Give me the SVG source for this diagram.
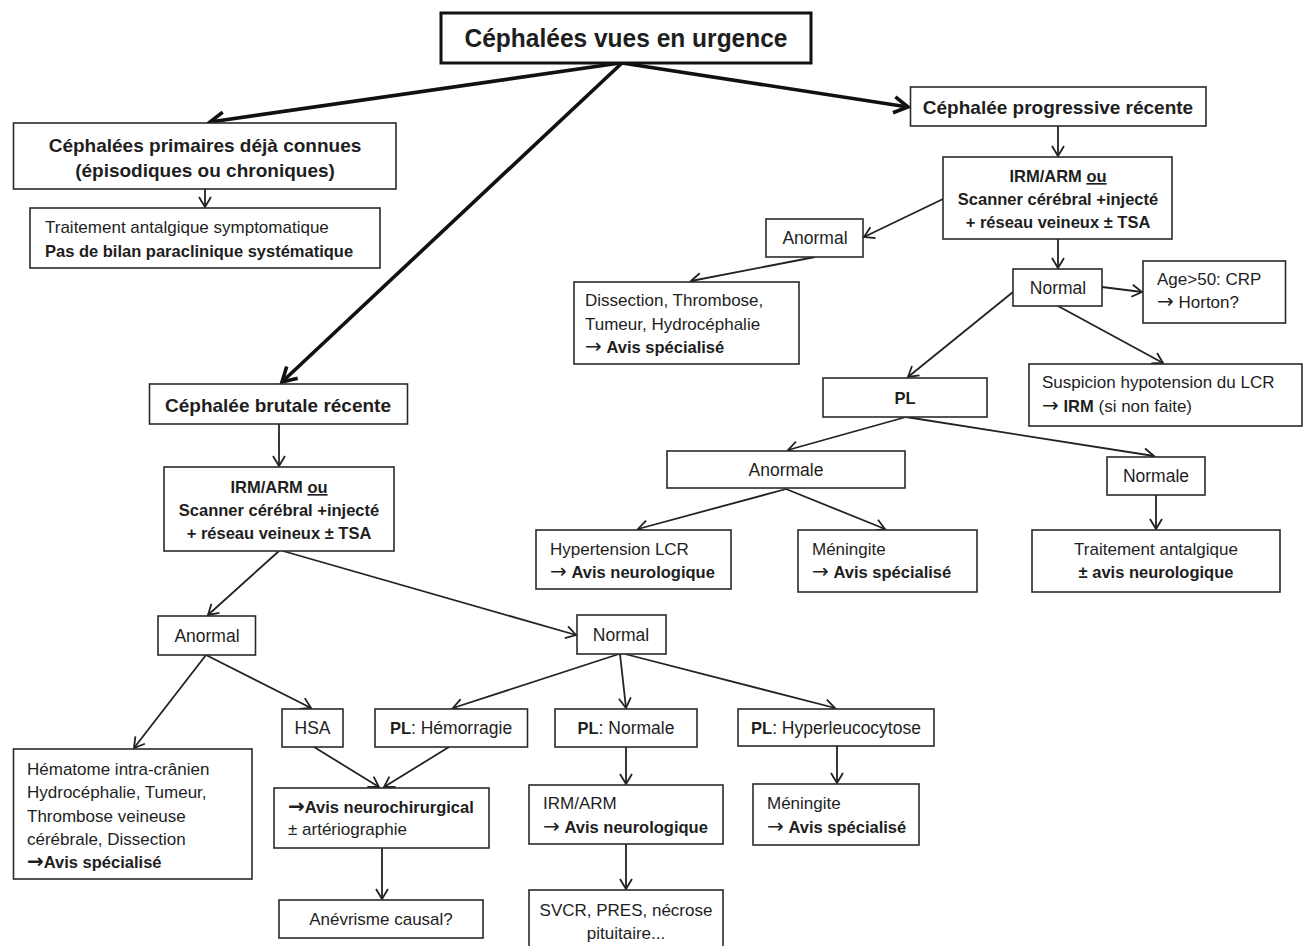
<svg xmlns="http://www.w3.org/2000/svg" width="1306" height="946" viewBox="0 0 1306 946">
<style>
text{font-family:"Liberation Sans",Arial,sans-serif;fill:#1e1e1e;font-size:17px}
.b{font-weight:bold;font-size:16.5px}
.h{font-weight:bold;font-size:19px}
.t{font-weight:bold;font-size:26px}
.c{text-anchor:middle}
.n{font-size:17.5px}
.ar{font-family:"DejaVu Sans",sans-serif;font-size:20px}
rect{fill:#fff;stroke:#2a2a2a;stroke-width:1.6}
.thick{stroke:#111;stroke-width:3.6;fill:none}
.thin{stroke:#222;stroke-width:1.8;fill:none}
</style>
<defs>
<marker id="ah" viewBox="0 0 14 14" refX="12" refY="7" markerWidth="14" markerHeight="14" markerUnits="userSpaceOnUse" orient="auto">
<path d="M2,1 L12,7 L2,13" fill="none" stroke="#222" stroke-width="1.8"/>
</marker>
<marker id="ahT" viewBox="0 0 20 20" refX="17" refY="10" markerWidth="20" markerHeight="20" markerUnits="userSpaceOnUse" orient="auto">
<path d="M3,2 L17,10 L3,18" fill="none" stroke="#111" stroke-width="3.6"/>
</marker>
</defs>

<g id="connectors">
<line class="thick" x1="620" y1="63" x2="210" y2="122" marker-end="url(#ahT)"/>
<line class="thick" x1="622" y1="63" x2="282" y2="382" marker-end="url(#ahT)"/>
<line class="thick" x1="622" y1="63" x2="908" y2="107" marker-end="url(#ahT)"/>
<line class="thin" x1="205" y1="189" x2="205" y2="207" marker-end="url(#ah)"/>
<line class="thin" x1="1058" y1="126" x2="1058" y2="156" marker-end="url(#ah)"/>
<line class="thin" x1="943" y1="199" x2="864" y2="237" marker-end="url(#ah)"/>
<line class="thin" x1="1058" y1="239" x2="1058" y2="268" marker-end="url(#ah)"/>
<line class="thin" x1="1102" y1="287" x2="1142" y2="292" marker-end="url(#ah)"/>
<line class="thin" x1="815" y1="257" x2="691" y2="281" marker-end="url(#ah)"/>
<line class="thin" x1="1013" y1="292" x2="908" y2="377" marker-end="url(#ah)"/>
<line class="thin" x1="1058" y1="306" x2="1163" y2="363" marker-end="url(#ah)"/>
<line class="thin" x1="906" y1="417" x2="788" y2="450" marker-end="url(#ah)"/>
<line class="thin" x1="906" y1="417" x2="1154" y2="456" marker-end="url(#ah)"/>
<line class="thin" x1="786" y1="489" x2="638" y2="529" marker-end="url(#ah)"/>
<line class="thin" x1="786" y1="489" x2="885" y2="529" marker-end="url(#ah)"/>
<line class="thin" x1="1156" y1="495" x2="1156" y2="529" marker-end="url(#ah)"/>
<line class="thin" x1="279" y1="424" x2="279" y2="466" marker-end="url(#ah)"/>
<line class="thin" x1="279" y1="551" x2="208" y2="615" marker-end="url(#ah)"/>
<line class="thin" x1="283" y1="551" x2="576" y2="635" marker-end="url(#ah)"/>
<line class="thin" x1="206" y1="655" x2="311" y2="708" marker-end="url(#ah)"/>
<line class="thin" x1="206" y1="655" x2="134" y2="748" marker-end="url(#ah)"/>
<line class="thin" x1="619" y1="654" x2="453" y2="708" marker-end="url(#ah)"/>
<line class="thin" x1="620" y1="654" x2="626" y2="708" marker-end="url(#ah)"/>
<line class="thin" x1="625" y1="654" x2="835" y2="708" marker-end="url(#ah)"/>
<line class="thin" x1="314" y1="747" x2="379" y2="787" marker-end="url(#ah)"/>
<line class="thin" x1="449" y1="747" x2="384" y2="787" marker-end="url(#ah)"/>
<line class="thin" x1="382" y1="848" x2="382" y2="899" marker-end="url(#ah)"/>
<line class="thin" x1="626" y1="747" x2="626" y2="784" marker-end="url(#ah)"/>
<line class="thin" x1="626" y1="844" x2="626" y2="889" marker-end="url(#ah)"/>
<line class="thin" x1="837" y1="746" x2="837" y2="783" marker-end="url(#ah)"/>
</g>

<g id="title">
<rect x="441" y="13" width="370" height="50" style="stroke-width:3;stroke:#111"/>
<text class="t c" x="626" y="47" textLength="323" lengthAdjust="spacingAndGlyphs">Céphalées vues en urgence</text>
</g>

<g id="primaires">
<rect x="13.5" y="123" width="382.5" height="66"/>
<text class="h c" x="205" y="152">Céphalées primaires déjà connues</text>
<text class="h c" x="205" y="177">(épisodiques ou chroniques)</text>
</g>

<g id="traitement-symptomatique">
<rect x="30" y="208" width="350" height="60"/>
<text x="45" y="233">Traitement antalgique symptomatique</text>
<text class="b" x="45" y="257">Pas de bilan paraclinique systématique</text>
</g>

<g id="progressive">
<rect x="910.5" y="87" width="295.5" height="39"/>
<text class="h c" x="1058" y="114">Céphalée progressive récente</text>
</g>

<g id="imagerie-progressive">
<rect x="943" y="157" width="229" height="82"/>
<text class="b c" x="1058" y="182">IRM/ARM <tspan text-decoration="underline">ou</tspan></text>
<text class="b c" x="1058" y="205">Scanner cérébral +injecté</text>
<text class="b c" x="1058" y="228">+ réseau veineux ± TSA</text>
</g>

<g id="anormal-progressive">
<rect x="766" y="219" width="97" height="38"/>
<text class="n c" x="815" y="244">Anormal</text>
</g>

<g id="normal-progressive">
<rect x="1013" y="269" width="89" height="37"/>
<text class="n c" x="1058" y="294">Normal</text>
</g>

<g id="age">
<rect x="1143" y="261" width="142.5" height="62"/>
<text x="1157" y="285">Age&gt;50: CRP</text>
<text x="1157" y="308"><tspan class="ar">→</tspan> Horton?</text>
</g>

<g id="dissection">
<rect x="574" y="282" width="225" height="82"/>
<text x="585" y="306">Dissection, Thrombose,</text>
<text x="585" y="330">Tumeur, Hydrocéphalie</text>
<text x="585" y="353"><tspan class="ar">→</tspan> <tspan class="b">Avis spécialisé</tspan></text>
</g>

<g id="pl">
<rect x="823" y="378" width="164" height="39"/>
<text class="b c" x="905" y="404">PL</text>
</g>

<g id="suspicion">
<rect x="1029" y="364" width="273" height="62"/>
<text x="1042" y="388">Suspicion hypotension du LCR</text>
<text x="1042" y="412"><tspan class="ar">→</tspan> <tspan class="b">IRM</tspan> (si non faite)</text>
</g>

<g id="anormale">
<rect x="667" y="451" width="238" height="37"/>
<text class="n c" x="786" y="476">Anormale</text>
</g>

<g id="normale">
<rect x="1107" y="457" width="98" height="38"/>
<text class="n c" x="1156" y="482">Normale</text>
</g>

<g id="hypertension">
<rect x="536" y="530" width="195" height="59"/>
<text x="550" y="555">Hypertension LCR</text>
<text x="550" y="578"><tspan class="ar">→</tspan> <tspan class="b">Avis neurologique</tspan></text>
</g>

<g id="meningite-progressive">
<rect x="798" y="530" width="179" height="62"/>
<text x="812" y="555">Méningite</text>
<text x="812" y="578"><tspan class="ar">→</tspan> <tspan class="b">Avis spécialisé</tspan></text>
</g>

<g id="traitement-antalgique">
<rect x="1032" y="530" width="248" height="62"/>
<text class="c" x="1156" y="555">Traitement antalgique</text>
<text class="b c" x="1156" y="578">± avis neurologique</text>
</g>

<g id="brutale">
<rect x="149.5" y="384" width="258" height="40"/>
<text class="h c" x="278" y="412">Céphalée brutale récente</text>
</g>

<g id="imagerie-brutale">
<rect x="164" y="467" width="230" height="84"/>
<text class="b c" x="279" y="493">IRM/ARM <tspan text-decoration="underline">ou</tspan></text>
<text class="b c" x="279" y="516">Scanner cérébral +injecté</text>
<text class="b c" x="279" y="539">+ réseau veineux ± TSA</text>
</g>

<g id="anormal-brutale">
<rect x="158" y="616" width="97.5" height="39"/>
<text class="n c" x="207" y="642">Anormal</text>
</g>

<g id="normal-brutale">
<rect x="577" y="615" width="89" height="39"/>
<text class="n c" x="621" y="641">Normal</text>
</g>

<g id="hsa">
<rect x="282" y="709" width="61" height="38"/>
<text class="n c" x="312.5" y="734">HSA</text>
</g>

<g id="pl-hemorragie">
<rect x="375" y="709" width="152.5" height="38"/>
<text class="n c" x="451" y="734"><tspan class="b">PL</tspan>: Hémorragie</text>
</g>

<g id="pl-normale">
<rect x="555" y="709" width="142" height="38"/>
<text class="n c" x="626" y="734"><tspan class="b">PL</tspan>: Normale</text>
</g>

<g id="pl-hyperleucocytose">
<rect x="738" y="709" width="196" height="37"/>
<text class="n c" x="836" y="734"><tspan class="b">PL</tspan>: Hyperleucocytose</text>
</g>

<g id="hematome">
<rect x="13.5" y="749" width="238.5" height="130"/>
<text x="27" y="775">Hématome intra-crânien</text>
<text x="27" y="798">Hydrocéphalie, Tumeur,</text>
<text x="27" y="822">Thrombose veineuse</text>
<text x="27" y="845">cérébrale, Dissection</text>
<text x="27" y="868"><tspan class="ar" font-weight="bold">→</tspan><tspan class="b">Avis spécialisé</tspan></text>
</g>

<g id="neurochirurgical">
<rect x="274" y="788" width="215" height="60"/>
<text x="288" y="813"><tspan class="ar" font-weight="bold">→</tspan><tspan class="b">Avis neurochirurgical</tspan></text>
<text x="288" y="835">± artériographie</text>
</g>

<g id="anevrisme">
<rect x="279" y="900" width="204" height="38"/>
<text class="c" x="381" y="925">Anévrisme causal?</text>
</g>

<g id="irm-arm">
<rect x="529" y="785" width="194" height="59"/>
<text x="543" y="809">IRM/ARM</text>
<text x="543" y="833"><tspan class="ar">→</tspan> <tspan class="b">Avis neurologique</tspan></text>
</g>

<g id="svcr">
<rect x="529" y="890" width="194" height="62"/>
<text class="c" x="626" y="916">SVCR, PRES, nécrose</text>
<text class="c" x="626" y="939">pituitaire...</text>
</g>

<g id="meningite-brutale">
<rect x="753" y="784" width="166" height="61"/>
<text x="767" y="809">Méningite</text>
<text x="767" y="833"><tspan class="ar">→</tspan> <tspan class="b">Avis spécialisé</tspan></text>
</g>
</svg>
